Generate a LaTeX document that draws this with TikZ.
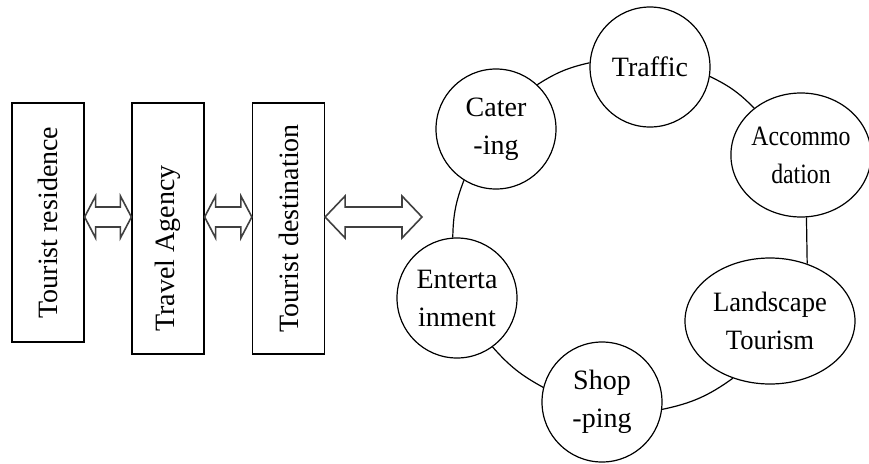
\documentclass[tikz,border=0pt]{standalone}
\usepackage{fontspec}
\setmainfont{Liberation Serif}
\usetikzlibrary{calc,shapes.geometric}

\begin{document}
\begin{tikzpicture}[
    x=0.5pt,y=0.5pt,
    stage/.style={rectangle,draw,line width=0.6pt,minimum width=36pt,
      inner sep=0pt,font=\fontsize{14}{17}\selectfont},
    factor/.style={circle,draw,line width=0.6pt,minimum size=60pt,
      inner sep=0pt,align=center,font=\fontsize{14}{19}\selectfont},
    factoroval/.style={factor,ellipse},
    link/.style={draw,line width=0.6pt},
    flow/.style={draw=black!75,line width=0.8pt,fill=white,line join=miter,
      to path={(\tikztostart) -- ($(\tikztostart)+(#1,21)$)
        -- ($(\tikztostart)+(#1,10)$) -- ($(\tikztotarget)+(-#1,10)$)
        -- ($(\tikztotarget)+(-#1,21)$) -- (\tikztotarget)
        -- ($(\tikztotarget)+(-#1,-21)$) -- ($(\tikztotarget)+(-#1,-10)$)
        -- ($(\tikztostart)+(#1,-10)$) -- ($(\tikztostart)+(#1,-21)$)
        -- cycle}}
  ]
  \useasboundingbox (0,0) rectangle (869,463);

  \node[stage,minimum height=119.5pt] (res) at (48,240.5)
    {\rotatebox{90}{Tourist residence}};
  \node[stage,minimum height=125.5pt] (agency) at (168,234.5)
    {\rotatebox{90}{Travel Agency\hspace{20pt}}};
  \node[stage,minimum height=125.5pt] (dest) at (288.5,234.5)
    {\rotatebox{90}{Tourist destination}};

  \node[factor] (traffic) at (650,396) {Traffic};
  \node[factor] (cater) at (496,334) {Cater\\-ing};
  \node[factoroval,minimum width=66.5pt,minimum height=62pt] (accom)
    at (801,308) {\scalebox{0.85}[1]{Accommo}\\\scalebox{0.85}[1]{dation}};
  \node[factoroval,minimum width=85pt,minimum height=63pt] (scape)
    at (770,142) {\scalebox{0.95}[1]{Landscape}\\\scalebox{0.95}[1]{Tourism}};
  \node[factor] (shop) at (602,61) {Shop\\-ping};
  \node[factor] (enter) at (457,165) {Enterta\\inment};

  \coordinate (ay) at (0,246);
  \coordinate (ring) at (422,246);

  \draw[flow=11] (res.east |- ay) to (agency.west |- ay);
  \draw[flow=11] (agency.east |- ay) to (dest.west |- ay);
  \draw[flow=20] (dest.east |- ay) to (ring);

  \draw[link] (traffic.-9.5) to[bend left=10] (accom.135.6);
  \draw[link] (accom.-85) -- (scape.57);
  \draw[link] (scape.-123) to[bend left=12] (shop.-7.6);
  \draw[link] (shop.166) to[bend left=10] (enter.-54);
  \draw[link] (enter.94) to[bend left=10] (cater.-122.7);
  \draw[link] (cater.47) to[bend left=10] (traffic.176);
\end{tikzpicture}
\end{document}
